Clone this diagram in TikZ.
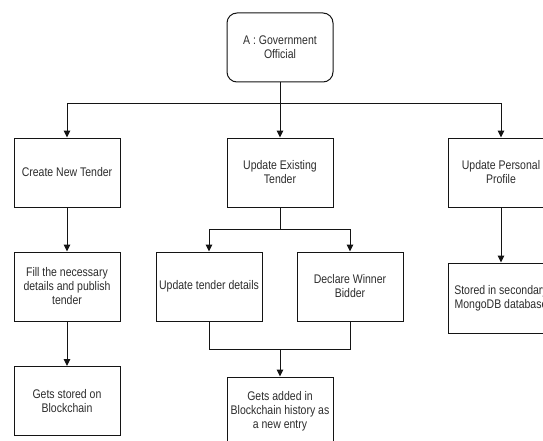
\documentclass[tikz,border=0pt]{standalone}
\usepackage{fontspec}
\setmainfont{Liberation Sans}[FakeStretch=0.84]
\usetikzlibrary{arrows.meta}
\definecolor{txt}{RGB}{45,45,45}
\definecolor{ln}{RGB}{20,20,20}
\tikzset{
  box/.style={draw=ln, line width=1pt, minimum width=106pt, minimum height=69pt,
    inner sep=0pt, align=center, text=txt, font=\fontsize{12.5}{14}\selectfont},
  rbox/.style={box, rounded corners=10pt},
  arr/.style={draw=ln, line width=1pt, -{Triangle[width=6.5pt,length=7pt]}},
  plain/.style={draw=ln, line width=1pt}
}
\begin{document}
\begin{tikzpicture}[x=1pt,y=-1pt]
\useasboundingbox (0,0) rectangle (543,441);
\fill[white] (0,0) rectangle (543,441);
\clip (0,0) rectangle (543,441);

\node[rbox] (top) at (280,47.5) {A : Government\\Official};
\node[box] (create) at (67,172.5) {Create New Tender};
\node[box] (update) at (280,172.5) {Update Existing\\Tender};
\node[box] (profile) at (501,172.5) {Update Personal\\Profile};
\node[box] (fill) at (67,286.5) {Fill the necessary\\details and publish\\tender};
\node[box] (utd) at (209,286.5) {Update tender details};
\node[box] (dwb) at (350,286.5) {Declare Winner\\Bidder};
\node[box, minimum height=70pt] (stored) at (501,298) {Stored in secondary\\MongoDB database};
\node[box] (gsb) at (67,401) {Gets stored on\\Blockchain};
\node[box] (added) at (280,411.5) {Gets added in\\Blockchain history as\\a new entry};

\coordinate (bus1) at (0,104);
\coordinate (bus2) at (0,229);
\coordinate (bus3) at (0,349);

\draw[arr] (top.south) -- (update.north);
\draw[arr] (top.south) -- (top.south|-bus1) -| (create.north);
\draw[arr] (top.south) -- (top.south|-bus1) -| (profile.north);

\draw[arr] (create.south) -- (fill.north);
\draw[arr] (fill.south) -- (gsb.north);
\draw[arr] (profile.south) -- (stored.north);

\draw[arr] (update.south) -- (update.south|-bus2) -| (utd.north);
\draw[arr] (update.south) -- (update.south|-bus2) -| (dwb.north);

\draw[arr] (utd.south) -- (utd.south|-bus3) -| (added.north);
\draw[plain] (dwb.south) -- (dwb.south|-bus3) -- (added.north|-bus3);
\end{tikzpicture}
\end{document}
